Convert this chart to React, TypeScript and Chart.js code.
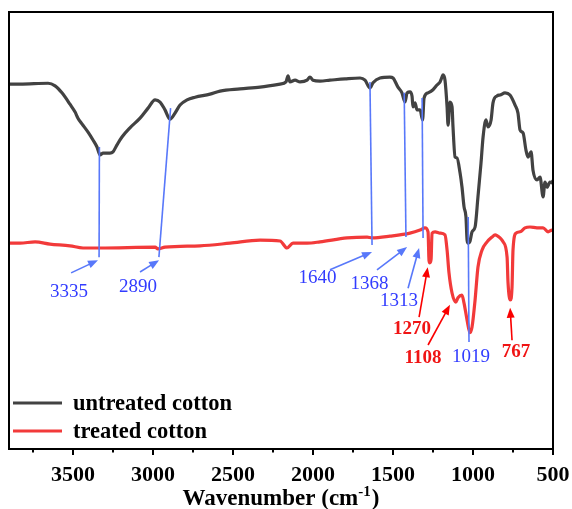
import { useEffect, useRef } from "react";
import { Chart, registerables } from "chart.js";

Chart.register(...registerables);

// FTIR spectra (wavenumber in cm-1, transmittance in arbitrary units)
const wnUntreated = [
  3900, 3831, 3656, 3612, 3569, 3519, 3487, 3469, 3444, 3406, 3375, 3350, 3331, 3312, 3269, 3250, 3225, 3194,
  3144, 3081, 3031, 2987, 2956, 2925, 2894, 2862, 2831, 2787, 2737, 2644, 2581, 2456, 2331, 2206, 2169, 2156,
  2144, 2112, 2081, 2037, 2019, 2000, 1956, 1894, 1800, 1706, 1675, 1644, 1625, 1581, 1519, 1500, 1469, 1444,
  1425, 1412, 1394, 1381, 1375, 1362, 1350, 1331, 1315, 1306, 1281, 1250, 1225, 1206, 1194, 1187, 1175, 1162,
  1156, 1144, 1131, 1125, 1112, 1100, 1081, 1069, 1056, 1044, 1037, 1031, 1019, 1006, 987, 969, 950, 937, 919,
  906, 887, 875, 850, 831, 800, 769, 737, 719, 706, 687, 669, 656, 637, 625, 600, 581, 562, 550, 537, 519, 506,
  500,
];
const tUntreated = [
  83.5, 83.5, 83.7, 83.1, 81.5, 78.9, 77.1, 75.7, 74.4, 72.5, 70.7, 69.1, 67.3, 67.7, 67.7, 68.0, 69.6, 71.4,
  73.5, 75.7, 78.0, 79.9, 79.4, 77.6, 75.5, 76.9, 78.7, 79.9, 80.5, 81.2, 81.9, 82.4, 82.8, 83.5, 84.0, 85.4,
  84.0, 84.4, 84.0, 84.4, 85.1, 84.4, 84.2, 84.4, 84.7, 84.9, 84.4, 82.6, 83.8, 84.9, 85.1, 84.9, 82.8, 81.5,
  79.4, 81.5, 81.7, 80.7, 78.3, 79.2, 77.6, 77.6, 75.3, 80.3, 81.5, 82.2, 83.3, 84.0, 85.1, 85.6, 84.4, 78.3,
  74.1, 79.4, 78.3, 73.7, 66.8, 66.6, 63.2, 60.0, 55.4, 53.1, 47.8, 47.1, 47.5, 49.7, 50.8, 57.7, 65.4, 71.4,
  75.3, 73.7, 75.3, 79.2, 80.8, 81.0, 81.5, 81.0, 78.7, 76.9, 73.0, 72.3, 68.4, 66.8, 68.0, 63.8, 61.6, 62.2,
  57.7, 61.1, 59.9, 61.1, 60.9, 61.5,
];

const wnTreated = [
  3900, 3831, 3737, 3644, 3519, 3437, 3331, 2987, 2969, 2925, 2706, 2519, 2331, 2206, 2162, 2125, 2037, 1956,
  1787, 1662, 1631, 1519, 1394, 1331, 1300, 1281, 1275, 1270, 1262, 1256, 1237, 1206, 1175, 1162, 1150, 1131,
  1108, 1094, 1069, 1056, 1037, 1019, 1006, 987, 969, 944, 912, 881, 862, 831, 812, 787, 781, 767, 756, 750,
  731, 706, 675, 644, 600, 562, 531, 506, 500,
];
const tTreated = [
  47.1, 47.1, 47.4, 46.9, 46.5, 46.0, 46.0, 46.2, 45.8, 46.2, 46.5, 47.1, 47.8, 47.6, 46.0, 47.1, 47.1, 47.4,
  48.3, 48.5, 48.3, 48.7, 49.4, 50.1, 50.6, 49.7, 43.2, 42.6, 43.4, 49.4, 49.7, 49.4, 49.0, 45.5, 40.3, 35.7,
  33.6, 34.6, 35.2, 33.4, 29.5, 26.6, 27.9, 34.1, 41.6, 45.5, 47.4, 48.5, 49.0, 48.3, 47.4, 43.9, 38.0, 34.1,
  37.1, 45.5, 49.4, 49.7, 50.6, 50.8, 50.6, 50.6, 49.7, 50.1, 49.9,
];

const seriesNames = ["untreated cotton", "treated cotton"];
const xTickValues = [3500, 3000, 2500, 2000, 1500, 1000, 500];
const xMinorTickValues = [3750, 3250, 2750, 2250, 1750, 1250, 750];

// Band assignments marked on both spectra
const blueBands = ["3335", "2890", "1640", "1368", "1313", "1019"];
const redBands = ["1270", "1108", "767"];

// Leader lines joining a band on the upper spectrum to the lower one
const leaderTopWn = [3335, 2890, 1644, 1430, 1318, 1030];
const leaderTopT = [69.1, 78.0, 84.0, 81.5, 80.3, 53.1];
const leaderBottomWn = [3337, 2963, 1631, 1419, 1312, 1025];
const leaderBottomT = [43.9, 43.9, 46.7, 48.5, 48.3, 24.5];

// Where each band label sits, and its arrow (tail -> head), in data units
const blueLabelPlacement = [
  { at: [3525, 35.9], from: [3512, 40.3], to: [3344, 43.2] },
  { at: [3094, 37.1], from: [3081, 40.5], to: [2962, 43.2] },
  { at: [1972, 39.1], from: [1894, 41.0], to: [1631, 45.1] },
  { at: [1647, 37.8], from: [1600, 41.0], to: [1412, 46.2] },
  { at: [1463, 33.9], from: [1406, 36.8], to: [1337, 46.0] },
  { at: [1013, 21.1], from: null, to: null },
];
const redLabelPlacement = [
  { at: [1381, 27.5], from: [1337, 30.2], to: [1283, 41.6] },
  { at: [1313, 20.8], from: [1281, 23.8], to: [1144, 33.0] },
  { at: [731, 22.2], from: [756, 24.9], to: [768, 32.3] },
];

const DARK = "rgb(66,66,66)";
const RED = "rgb(242,58,58)";
const BLUE_LINE = "rgb(88,120,250)";
const BLUE_TEXT = "rgb(50,60,255)";
const RED_TEXT = "rgb(240,20,20)";
const SERIF = '"Liberation Serif", "Times New Roman", serif';

function drawArrow(ctx, x1, y1, x2, y2, color) {
  const ang = Math.atan2(y2 - y1, x2 - x1);
  const head = 10;
  const half = 4;
  ctx.save();
  ctx.strokeStyle = color;
  ctx.fillStyle = color;
  ctx.lineWidth = 1.6;
  ctx.beginPath();
  ctx.moveTo(x1, y1);
  ctx.lineTo(x2 - Math.cos(ang) * head * 0.8, y2 - Math.sin(ang) * head * 0.8);
  ctx.stroke();
  ctx.beginPath();
  ctx.moveTo(x2, y2);
  ctx.lineTo(
    x2 - Math.cos(ang) * head - Math.sin(ang) * half,
    y2 - Math.sin(ang) * head + Math.cos(ang) * half
  );
  ctx.lineTo(
    x2 - Math.cos(ang) * head + Math.sin(ang) * half,
    y2 - Math.sin(ang) * head - Math.cos(ang) * half
  );
  ctx.closePath();
  ctx.fill();
  ctx.restore();
}

const decorPlugin = {
  id: "ftirDecor",
  afterDatasetsDraw(chart) {
    const { ctx, chartArea, scales } = chart;
    const xs = scales.x;
    const ys = scales.y;
    const px = (v) => xs.getPixelForValue(v);
    const py = (v) => ys.getPixelForValue(v);

    // leader lines
    ctx.save();
    ctx.strokeStyle = BLUE_LINE;
    ctx.lineWidth = 1.6;
    for (let i = 0; i < leaderTopWn.length; i++) {
      ctx.beginPath();
      ctx.moveTo(px(leaderTopWn[i]), py(leaderTopT[i]));
      ctx.lineTo(px(leaderBottomWn[i]), py(leaderBottomT[i]));
      ctx.stroke();
    }
    ctx.restore();

    // labels and arrows
    const drawSet = (labels, placement, color, arrowColor, bold) => {
      labels.forEach((txt, i) => {
        const p = placement[i];
        if (p.from && p.to) {
          drawArrow(ctx, px(p.from[0]), py(p.from[1]), px(p.to[0]), py(p.to[1]), arrowColor);
        }
        ctx.save();
        ctx.font = `${bold ? "bold " : ""}19px ${SERIF}`;
        ctx.fillStyle = color;
        ctx.textAlign = "center";
        ctx.textBaseline = "middle";
        ctx.fillText(txt, px(p.at[0]), py(p.at[1]));
        ctx.restore();
      });
    };
    drawSet(blueBands, blueLabelPlacement, BLUE_TEXT, BLUE_LINE, false);
    drawSet(redBands, redLabelPlacement, RED_TEXT, "rgb(250,0,0)", true);

    // frame
    ctx.save();
    ctx.strokeStyle = "#000";
    ctx.lineWidth = 2;
    ctx.strokeRect(chartArea.left, chartArea.top, chartArea.right - chartArea.left, chartArea.bottom - chartArea.top);

    // outward tick marks on the wavenumber axis
    ctx.lineWidth = 2;
    xTickValues.forEach((v) => {
      const x = px(v);
      ctx.beginPath();
      ctx.moveTo(x, chartArea.bottom);
      ctx.lineTo(x, chartArea.bottom + 6);
      ctx.stroke();
    });
    xMinorTickValues.forEach((v) => {
      const x = px(v);
      ctx.beginPath();
      ctx.moveTo(x, chartArea.bottom);
      ctx.lineTo(x, chartArea.bottom + 3.5);
      ctx.stroke();
    });
    ctx.restore();
  },
  afterDraw(chart) {
    const { ctx, chartArea } = chart;

    // legend, inside the lower-left corner of the plot
    const colors = [DARK, RED];
    ctx.save();
    seriesNames.forEach((name, i) => {
      const y = chartArea.bottom - 46 + i * 28;
      ctx.strokeStyle = colors[i];
      ctx.lineWidth = 3;
      ctx.beginPath();
      ctx.moveTo(chartArea.left + 4, y);
      ctx.lineTo(chartArea.left + 53, y);
      ctx.stroke();
      ctx.font = `bold 22.5px ${SERIF}`;
      ctx.fillStyle = "#000";
      ctx.textAlign = "left";
      ctx.textBaseline = "middle";
      ctx.fillText(name, chartArea.left + 64, y + 1);
    });

    // axis title with superscript
    const main = "Wavenumber (cm";
    const sup = "-1";
    const tail = ")";
    const bigFont = `bold 23px ${SERIF}`;
    const supFont = `bold 15px ${SERIF}`;
    ctx.font = bigFont;
    const w1 = ctx.measureText(main).width;
    const w3 = ctx.measureText(tail).width;
    ctx.font = supFont;
    const w2 = ctx.measureText(sup).width;
    const total = w1 + w2 + w3 + 1;
    const cx = (chartArea.left + chartArea.right) / 2;
    let x = cx - total / 2;
    const base = chartArea.bottom + 56;
    ctx.fillStyle = "#000";
    ctx.textAlign = "left";
    ctx.textBaseline = "alphabetic";
    ctx.font = bigFont;
    ctx.fillText(main, x, base);
    x += w1;
    ctx.font = supFont;
    ctx.fillText(sup, x, base - 9);
    x += w2 + 1;
    ctx.font = bigFont;
    ctx.fillText(tail, x, base);
    ctx.restore();
  },
};

export default function App() {
  const canvasRef = useRef(null);

  useEffect(() => {
    const canvas = canvasRef.current;
    if (!canvas) return;
    const chart = new Chart(canvas, {
      type: "line",
      data: {
        datasets: [
          {
            label: seriesNames[0],
            data: wnUntreated.map((w, i) => ({ x: w, y: tUntreated[i] })),
            borderColor: DARK,
            borderWidth: 3.2,
            pointRadius: 0,
            cubicInterpolationMode: "monotone",
            borderJoinStyle: "round",
            fill: false,
          },
          {
            label: seriesNames[1],
            data: wnTreated.map((w, i) => ({ x: w, y: tTreated[i] })),
            borderColor: RED,
            borderWidth: 3.2,
            pointRadius: 0,
            cubicInterpolationMode: "monotone",
            borderJoinStyle: "round",
            fill: false,
          },
        ],
      },
      options: {
        responsive: false,
        animation: false,
        devicePixelRatio: 1,
        parsing: false,
        layout: { padding: { left: 9, top: 12, right: 19, bottom: 0 } },
        plugins: {
          legend: { display: false },
          tooltip: { enabled: false },
          title: { display: false },
        },
        scales: {
          x: {
            type: "linear",
            reverse: true,
            min: 500,
            max: 3900,
            grid: { display: false, drawTicks: false },
            border: { display: false },
            ticks: {
              color: "#000",
              padding: 13,
              maxRotation: 0,
              autoSkip: false,
              font: { family: SERIF, size: 22, weight: "bold" },
              callback: (v) => String(v),
            },
            afterBuildTicks: (scale) => {
              scale.ticks = xTickValues.map((v) => ({ value: v }));
            },
            afterFit: (scale) => {
              scale.height = 60;
              scale.paddingLeft = 0;
              scale.paddingRight = 0;
            },
          },
          y: {
            type: "linear",
            display: false,
            min: 0,
            max: 100,
          },
        },
      },
      plugins: [decorPlugin],
    });
    return () => chart.destroy();
  }, []);

  return (
    <div style={{ position: "fixed", left: 0, top: 0, width: 572, height: 509, background: "#fff" }}>
      <canvas ref={canvasRef} width={572} height={509} style={{ display: "block" }} />
    </div>
  );
}
